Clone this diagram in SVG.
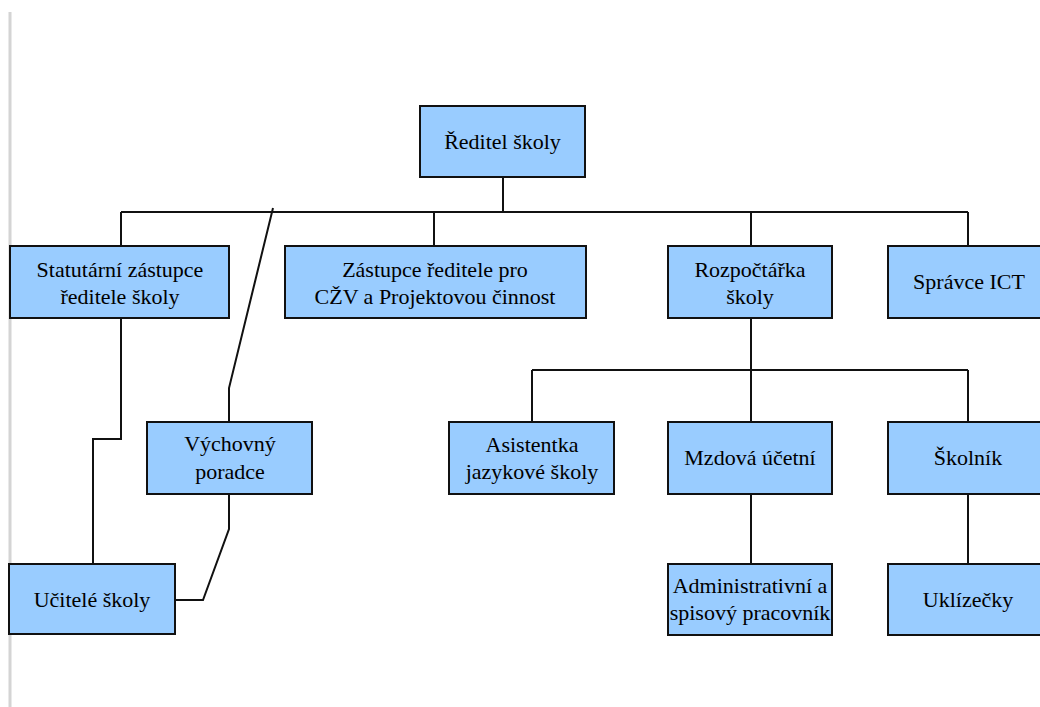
<svg xmlns="http://www.w3.org/2000/svg" width="1040" height="707" viewBox="0 0 1040 707">
<style>
.box{fill:#99ccff;stroke:#111;stroke-width:2}
.lbl{font-family:"Liberation Serif","Times New Roman",serif;font-size:22px;fill:#000;text-anchor:middle}
.con{fill:none;stroke:#111;stroke-width:2}
</style>
<rect width="1040" height="707" fill="#fff"/>
<line x1="10" y1="12" x2="10" y2="707" stroke="#d4d4d4" stroke-width="3"/>
<g id="connectors" class="con">
<path d="M503 177V212M121 212H968M121 212V246M434 212V246M751 212V246M968 212V246"/>
<path d="M751 318V422M532 370H968M532 370V422M968 370V422"/>
<path d="M751 494V564M968 494V564"/>
<path d="M121 318V439H93V564"/>
<path d="M273 208L229 388V422"/>
<path d="M229 494V529L203 600H175"/>
</g>
<g id="n-reditel"><rect class="box" x="420" y="106" width="165" height="71"/><text class="lbl" x="502.5" y="149">Ředitel školy</text></g>
<g id="n-statutarni"><rect class="box" x="10" y="246" width="219" height="72"/><text class="lbl" x="120" y="277">Statutární zástupce</text><text class="lbl" x="120" y="304">ředitele školy</text></g>
<g id="n-zastupce"><rect class="box" x="285" y="246" width="301" height="72"/><text class="lbl" x="435" y="277">Zástupce ředitele pro</text><text class="lbl" x="435" y="304">CŽV a Projektovou činnost</text></g>
<g id="n-rozpoctarka"><rect class="box" x="668" y="246" width="164" height="72"/><text class="lbl" x="750" y="277">Rozpočtářka</text><text class="lbl" x="750" y="304">školy</text></g>
<g id="n-spravce"><rect class="box" x="888" y="246" width="166" height="72"/><text class="lbl" x="969" y="289">Správce ICT</text></g>
<g id="n-vychovny"><rect class="box" x="147" y="422" width="165" height="72"/><text class="lbl" x="230" y="451">Výchovný</text><text class="lbl" x="230" y="479">poradce</text></g>
<g id="n-asistentka"><rect class="box" x="449" y="422" width="165" height="72"/><text class="lbl" x="532" y="452">Asistentka</text><text class="lbl" x="532" y="479">jazykové školy</text></g>
<g id="n-mzdova"><rect class="box" x="668" y="422" width="164" height="72"/><text class="lbl" x="750" y="465">Mzdová účetní</text></g>
<g id="n-skolnik"><rect class="box" x="888" y="422" width="166" height="72"/><text class="lbl" x="968" y="465">Školník</text></g>
<g id="n-ucitele"><rect class="box" x="9" y="564" width="166" height="70"/><text class="lbl" x="92" y="607">Učitelé školy</text></g>
<g id="n-administrativni"><rect class="box" x="668" y="564" width="164" height="71"/><text class="lbl" x="750" y="593">Administrativní a</text><text class="lbl" x="750" y="620">spisový pracovník</text></g>
<g id="n-uklizecky"><rect class="box" x="888" y="564" width="166" height="71"/><text class="lbl" x="968" y="607">Uklízečky</text></g>
</svg>
